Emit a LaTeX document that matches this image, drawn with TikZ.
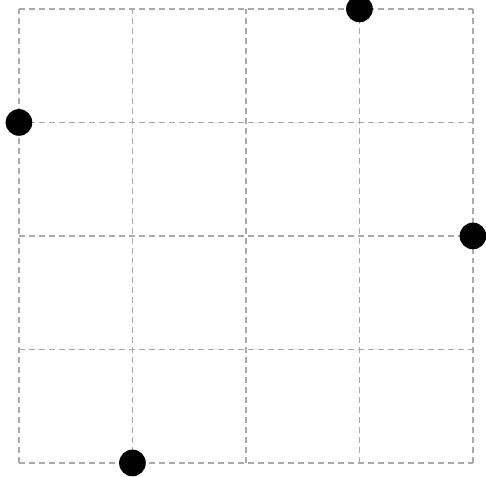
\documentclass[tikz,border=0pt]{standalone}
\usepackage{xcolor}
\usepackage{tikz}
\usetikzlibrary{positioning}

\definecolor{gridgray}{HTML}{AAAAAA}

\begin{document}
\begin{tikzpicture}[
  x=2cm, y=2cm,
  gridline/.style={gridgray, line width=0.9pt, dash pattern=on 3pt off 2pt},
  dot/.style={circle, fill=black, inner sep=0pt, minimum size=0.47cm}
]
\useasboundingbox (-0.167,-0.123) rectangle (4.115,4.079);

%% grid
\draw[gridline, step=2cm] (0,0) grid (4,4);

%% points
\node[dot] (top)    at (3,4) {};
\node[dot] (left)   at (0,3) {};
\node[dot] (right)  at (4,2) {};
\node[dot] (bottom) at (1,0) {};

\end{tikzpicture}
\end{document}
